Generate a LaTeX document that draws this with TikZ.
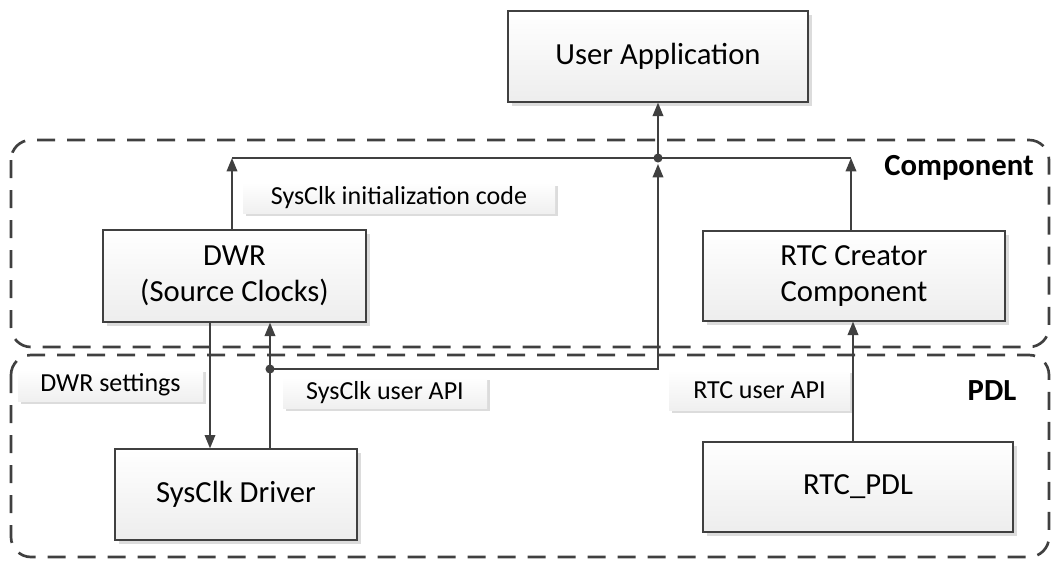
\documentclass[tikz,border=0pt]{standalone}
\usepackage{fontspec}
\setmainfont{Carlito}
\usetikzlibrary{arrows.meta,shadows}
\definecolor{linegray}{HTML}{404040}
\definecolor{shadowgray}{HTML}{DCDCDC}

\begin{document}
\begin{tikzpicture}[x=0.75pt,y=-0.75pt,
  box/.style={draw=linegray,line width=1pt,top color=white,bottom color=black!7,
    drop shadow={shadow xshift=3pt,shadow yshift=-3pt,fill=shadowgray,opacity=1},
    font=\fontsize{23}{27}\selectfont,align=center,inner sep=0pt},
  tag/.style={top color=white,bottom color=black!6,
    drop shadow={shadow xshift=2.5pt,shadow yshift=-2.5pt,fill=shadowgray,opacity=1},
    font=\fontsize{19.5}{23}\selectfont,inner sep=0pt},
  frame/.style={draw=linegray,line width=2pt,dash pattern=on 13.5pt off 9pt,rounded corners=15pt},
  conn/.style={draw=linegray,line width=1pt},
  arr/.style={conn,-{Triangle[width=8pt,length=10pt]}},
  title/.style={font=\fontsize{23}{27}\selectfont\bfseries}]
\useasboundingbox (0,0) rectangle (1053,562);
\draw [frame] (11,140) rectangle (1049,347);
\draw [frame] (11,355) rectangle (1049,557);
\node [title] (comptitle) at (959,168) {Component};
\node [title] (pdltitle) at (992,391) {PDL};
\node [box,minimum width=225pt,minimum height=68.25pt] (ua) at (658,56.5) {User Application};
\node [box,minimum width=197.25pt,minimum height=69pt] (dwr) at (234.5,276) {DWR\\(Source Clocks)};
\node [box,minimum width=226.5pt,minimum height=67.5pt] (rtcc) at (854,276) {RTC Creator\\Component};
\node [box,minimum width=181.5pt,minimum height=68.25pt] (drv) at (236,494.5) {SysClk Driver};
\node [box,minimum width=232.5pt,minimum height=67.5pt] (rtcpdl) at (858,487) {RTC\_PDL};
\node [tag,minimum width=234pt,minimum height=22.5pt] (initlbl) at (399,198) {SysClk initialization code};
\node [tag,minimum width=138.75pt,minimum height=24pt] (dwrlbl) at (110.5,385) {DWR settings};
\node [tag,minimum width=153pt,minimum height=23.25pt] (apilbl) at (385,392.5) {SysClk user API};
\node [tag,minimum width=135.75pt,minimum height=30pt] (rtclbl) at (759.5,390) {RTC user API};
\coordinate (jl) at (232,158);
\coordinate (jm) at (658,158);
\coordinate (jr) at (851,158);
\coordinate (jmb) at (658,164);
\coordinate (apidot) at (270,369);
\draw [conn] (jl) -- (jr);
\draw [arr] (dwr.north -| jl) -- (jl);
\draw [arr] (rtcc.north -| jr) -- (jr);
\draw [arr] (jm) -- (ua.south);
\fill [linegray] (jm) circle (3.4pt);
\draw [arr] (apidot) -| (jmb);
\draw [arr] (drv.north -| apidot) -- (dwr.south -| apidot);
\fill [linegray] (apidot) circle (3.4pt);
\draw [arr] (dwr.south -| 210,0) -- (drv.north -| 210,0);
\draw [arr] (rtcpdl.north -| 853,0) -- (rtcc.south -| 853,0);
\end{tikzpicture}
\end{document}
